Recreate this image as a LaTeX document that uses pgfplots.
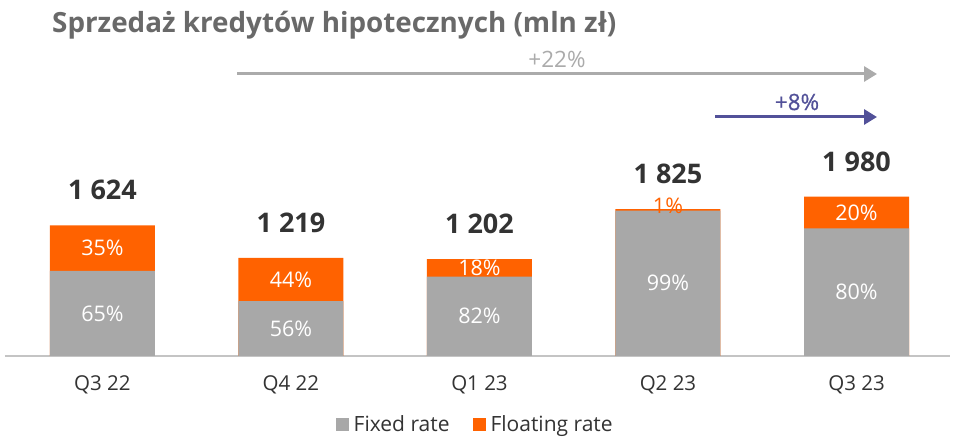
\documentclass[border=0pt]{standalone}
\usepackage{pgfplots}
\pgfplotsset{compat=1.18}
\usepackage{fontspec}
\setmainfont{Open Sans}
\newfontfamily\semib{Open Sans}[FakeBold=0.6]
\usetikzlibrary{arrows.meta}
\definecolor{ingray}{HTML}{A8A8A8}
\definecolor{ingorange}{HTML}{FF6200}
\definecolor{ingpurple}{HTML}{525199}
\definecolor{titlegray}{HTML}{696969}
\definecolor{darktext}{HTML}{333333}
\definecolor{axisgray}{HTML}{C4C4C4}
\definecolor{arrowgray}{HTML}{ABABAB}
\begin{document}
\begin{tikzpicture}[x=1pt,y=1pt]
\path[use as bounding box, fill=white] (0,0) rectangle (967,447);
\begin{axis}[
  at={(5pt,91pt)}, anchor=south west,
  scale only axis, width=945pt, height=193.2pt,
  xmin=-0.517, xmax=4.496, ymin=0, ymax=2400,
  axis x line=bottom, axis y line=none,
  x axis line style={-, draw=axisgray, line width=2.5pt},
  xtick={0,1,2,3,4}, xticklabels={Q3 22,Q4 22,Q1 23,Q2 23,Q3 23},
  major tick length=0pt,
  xticklabel style={font=\fontsize{20.5}{24}\selectfont, text=darktext, anchor=center, yshift=-29pt},
  ytick=\empty,
  clip=false,
  legend style={at={(axis description cs:0.497,-0.352)}, anchor=center, legend columns=2, draw=none, fill=none,
    font=\fontsize{21}{24}\selectfont, text=darktext,
    nodes={inner xsep=1pt},
    /tikz/every even column/.append style={column sep=22pt}},
  legend image code/.code={\fill[#1, draw=none] (0pt,-6.5pt) rectangle (13pt,6.5pt); \path[draw=none, fill=none] (17pt,0pt);},
]
% totals (orange) then fixed (gray) drawn over
\addplot[ybar, bar width=105pt, bar shift=0pt, fill=ingorange, draw=none, forget plot]
  coordinates {(0,1624) (1,1219) (2,1202) (3,1825) (4,1980)};
\addplot[ybar, bar width=105pt, bar shift=0pt, fill=ingray, draw=none, forget plot]
  coordinates {(0,1056) (1,683) (2,986) (3,1807) (4,1584)};
% fixed-rate share labels
\addplot[draw=none, forget plot, nodes near coords, point meta=explicit symbolic,
  every node near coord/.append style={anchor=center, text=white, font=\fontsize{21.5}{24}\selectfont}]
  coordinates {(0,528)[65\%] (1,341.5)[56\%] (2,493)[82\%] (3,903.5)[99\%] (4,792)[80\%]};
% floating-rate share labels
\addplot[draw=none, forget plot, nodes near coords, point meta=explicit symbolic,
  every node near coord/.append style={anchor=center, text=white, font=\fontsize{21.5}{24}\selectfont}]
  coordinates {(0,1340)[35\%] (1,951)[44\%] (2,1094)[18\%] (4,1782)[20\%]};
\addplot[draw=none, forget plot, nodes near coords, point meta=explicit symbolic,
  every node near coord/.append style={anchor=center, text=ingorange, yshift=3pt, font=\fontsize{21.5}{24}\selectfont}]
  coordinates {(3,1825)[1\%]};
% totals
\addplot[draw=none, forget plot, nodes near coords, point meta=explicit symbolic,
  every node near coord/.append style={anchor=center, text=darktext, yshift=35pt, font=\bfseries\fontsize{27}{30}\selectfont}]
  coordinates {(0,1624)[1 624] (1,1219)[1 219] (2,1202)[1 202] (3,1825)[1 825] (4,1980)[1 980]};
\addlegendimage{fill=ingray}
\addlegendentry{Fixed rate}
\addlegendimage{fill=ingorange}
\addlegendentry{Floating rate}
\end{axis}
\node[anchor=base west, inner sep=0pt, text=titlegray, font=\bfseries\fontsize{27.8}{32}\selectfont] at (52,414) {Sprzedaż kredytów hipotecznych (mln zł)};
\draw[arrowgray, line width=3pt, -{Triangle[length=13pt, width=15pt]}] (237,373) -- (877,373);
\node[text=arrowgray, font=\fontsize{22.5}{26}\selectfont] at (557,388) {+22\%};
\draw[ingpurple, line width=3pt, -{Triangle[length=13pt, width=15pt]}] (715,330) -- (877,330);
\node[text=ingpurple, font=\semib\fontsize{22.5}{26}\selectfont] at (797,345) {+8\%};
\end{tikzpicture}
\end{document}
